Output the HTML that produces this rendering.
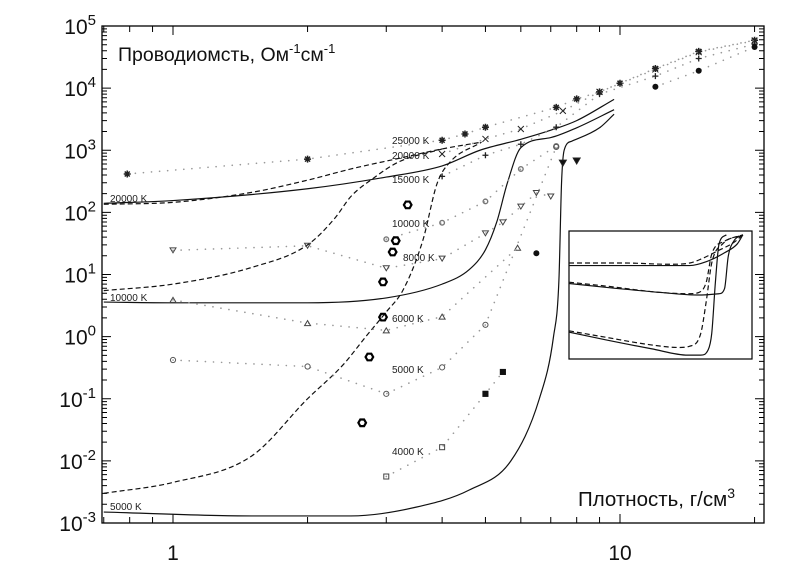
<!DOCTYPE html>
<html><head><meta charset="utf-8"><style>
html,body{margin:0;padding:0;background:#fff;}
svg{display:block;font-family:"Liberation Sans",sans-serif;}
</style></head><body>
<svg id="chart" width="800" height="576" viewBox="0 0 800 576" xmlns="http://www.w3.org/2000/svg">
<rect x="0" y="0" width="800" height="576" fill="#fff"/>
<g id="ticks"></g>
<g id="curves"></g>
<g id="series"></g>
<g id="inset"></g>
<rect x="102" y="26" width="662" height="497" fill="none" stroke="#000" stroke-width="1.3"/>
<text x="118" y="61" font-size="19.5" fill="#111">Проводиомсть, Ом<tspan dy="-8" font-size="13">-1</tspan><tspan dy="8">см</tspan><tspan dy="-8" font-size="13">-1</tspan></text>
<text x="578" y="506" font-size="20.5" fill="#111">Плотность, г/см<tspan dy="-8" font-size="14">3</tspan></text>
<g id="labels" font-size="10" fill="#222"></g>
<g id="ticklabels" font-size="21" fill="#111"></g>
</svg>
<script>
// ---------- data ----------
const xTickLabels = ["1","10"];
const yTickExps = [5,4,3,2,1,0,-1,-2,-3];

const solid20000X = [0.7,1,2,3,4,4.86,6,7,8,9.7];
const solid20000Y = [140,155,240,370,560,1000,1500,2100,3000,6600];
const solid10000X = [0.7,1,2,3,4,4.6,5,5.3,5.6,6,7,8,9.7];
const solid10000Y = [3.6,3.5,3.5,4.2,7,12,25,70,300,1100,1600,2300,4500];
const solid5000X = [0.7,1.5,2.5,3.5,4.6,5.7,6.6,7.1,7.3,7.4,7.5,7.8,9,9.7];
const solid5000Y = [0.0015,0.0013,0.0013,0.0018,0.0034,0.01,0.1,1,8,300,1000,1400,2300,3800];

const dash20000X = [0.7,1,1.5,2,2.5,3.2,4,4.9];
const dash20000Y = [135,145,210,330,500,740,1050,1350];
const dash10000X = [0.7,1,1.5,2,2.3,2.5,2.8,3.2,4];
const dash10000Y = [5.5,7,13,30,80,180,350,650,1050];
const dash5000X = [0.7,1,1.5,2,2.4,2.7,3,3.27,3.62,3.9,4.17,4.9];
const dash5000Y = [0.003,0.0045,0.012,0.1,0.35,1,2.5,5.6,35,295,650,1350];

const s25000X = [0.79,2,4,4.5,5,7.2,8,9,10,12,15,20];
const s25000Y = [415,720,1450,1830,2350,4900,6700,8700,12000,20700,39000,59000];
const s20000X = [4,5,6,7.45,9,12,15,20];
const s20000Y = [870,1520,2200,4300,8700,20000,38000,58000];
const s15000X = [4,5,6,7.2,9,12,15,20];
const s15000Y = [380,830,1250,2350,8000,15600,30000,51000];
const s12000X = [12,15,20];
const s12000Y = [10500,19000,46000];
const s10000X = [3,4,5,6,7.2];
const s10000Y = [37,68,150,500,1170];
const s8000X = [1,2,3,4,5,5.47,6,6.5,7];
const s8000Y = [24.5,29,12.6,18,46,69,124,205,180];
const s6000X = [1,2,3,4,5.9];
const s6000Y = [3.9,1.65,1.26,2.1,27];
const s5000X = [1,2,3,4,5,7.2];
const s5000Y = [0.42,0.33,0.12,0.32,1.55,1130];
const s4000X = [3,4];
const s4000Y = [0.0056,0.0166];
const s4000fX = [5,5.47];
const s4000fY = [0.12,0.27];
const sFilledCircX = [6.5];
const sFilledCircY = [22];
const sFilledTriX = [7.45,8];
const sFilledTriY = [620,670];
const hexX = [2.65,2.75,2.95,2.95,3.1,3.15,3.35];
const hexY = [0.041,0.47,2.06,7.6,23,35,132];

// inset (normalized 0..1 coordinates within inset box)
const insTopSolidX = [0,0.3,0.55,0.66,0.75,0.85,0.92,0.95];
const insTopSolidY = [0.73,0.73,0.73,0.73,0.76,0.83,0.9,0.97];
const insTopDashX = [0,0.3,0.55,0.66,0.72,0.82,0.9,0.95];
const insTopDashY = [0.75,0.75,0.74,0.75,0.78,0.85,0.91,0.97];
const insMidSolidX = [0,0.2,0.5,0.7,0.82,0.85,0.87,0.9,0.95];
const insMidSolidY = [0.59,0.56,0.52,0.5,0.51,0.55,0.8,0.92,0.97];
const insMidDashX = [0,0.2,0.5,0.66,0.71,0.75,0.78,0.85,0.95];
const insMidDashY = [0.6,0.57,0.52,0.51,0.52,0.6,0.82,0.92,0.97];
const insBotSolidX = [0,0.2,0.45,0.65,0.72,0.76,0.78,0.8,0.82,0.86];
const insBotSolidY = [0.21,0.15,0.08,0.03,0.03,0.07,0.2,0.6,0.9,0.97];
const insBotDashX = [0,0.2,0.45,0.6,0.66,0.72,0.75,0.78,0.84,0.95];
const insBotDashY = [0.22,0.17,0.11,0.09,0.1,0.2,0.45,0.75,0.9,0.97];

// ---------- scales ----------
const X0=102,X1=764,Y0=26,Y1=523;
const xOne=173, xDec=447;
function xs(v){return xOne+Math.log10(v)*xDec;}
function ys(v){return Y0+(5-Math.log10(v))*(Y1-Y0)/8;}
const IX0=569,IX1=752,IY0=231,IY1=359;
function ixs(v){return IX0+v*(IX1-IX0);}
function iys(v){return IY1-v*(IY1-IY0);}

const NS="http://www.w3.org/2000/svg";
function mk(tag,attrs,parent){const e=document.createElementNS(NS,tag);for(const k in attrs)e.setAttribute(k,attrs[k]);parent.appendChild(e);return e;}

// ---------- ticks ----------
const tg=document.getElementById('ticks');
const tickD=[];
for(let e=-3;e<=5;e++){
  const y=ys(Math.pow(10,e));
  tickD.push(`M${X0},${y}h9M${X1},${y}h-9`);
  if(e<5)for(let m=2;m<=9;m++){const yy=ys(m*Math.pow(10,e));tickD.push(`M${X0},${yy}h5M${X1},${yy}h-5`);}
}
const xtv=[0.7,0.8,0.9,1,2,3,4,5,6,7,8,9,10,20];
xtv.forEach(v=>{const x=xs(v);const L=(v===1||v===10)?9:6;tickD.push(`M${x},${Y1}v-${L}M${x},${Y0}v${L}`);});
const tp=mk('path',{d:tickD.join(''),stroke:'#000','stroke-width':1,fill:'none'},tg);



const tl=document.getElementById('ticklabels');
yTickExps.forEach(e=>{
  const t=mk('text',{x:96,y:ys(Math.pow(10,e))+8,'text-anchor':'end'},tl);
  
  
  t.innerHTML=`10<tspan dy="-9" font-size="15">${e}</tspan>`;
});
[1,10].forEach((v,i)=>{
  const t=mk('text',{x:xs(v),y:560,'text-anchor':'middle'},tl);
  
  
  t.textContent=xTickLabels[i];
});

// ---------- monotone curve path ----------
function smoothPath(px,py){
  const n=px.length;
  if(n<3){return px.map((x,i)=>(i?'L':'M')+x+','+py[i]).join('');}
  const d=[],m=new Array(n);
  for(let i=0;i<n-1;i++)d.push((py[i+1]-py[i])/(px[i+1]-px[i]));
  m[0]=d[0];m[n-1]=d[n-2];
  for(let i=1;i<n-1;i++){m[i]=(d[i-1]*d[i]<=0)?0:(d[i-1]+d[i])/2;}
  for(let i=0;i<n-1;i++){
    if(d[i]===0){m[i]=0;m[i+1]=0;continue;}
    const a=m[i]/d[i],b=m[i+1]/d[i],s=a*a+b*b;
    if(s>9){const t=3/Math.sqrt(s);m[i]=t*a*d[i];m[i+1]=t*b*d[i];}
  }
  let out=`M${px[0]},${py[0]}`;
  for(let i=0;i<n-1;i++){
    const h=(px[i+1]-px[i])/3;
    out+=`C${px[i]+h},${py[i]+m[i]*h} ${px[i+1]-h},${py[i+1]-m[i+1]*h} ${px[i+1]},${py[i+1]}`;
  }
  return out;
}
const cg=document.getElementById('curves');
function curve(X,Y,dash,name){
  const p=mk('path',{d:smoothPath(X.map(xs),Y.map(ys)),fill:'none',stroke:'#111','stroke-width':1.2},cg);
  if(dash)p.setAttribute('stroke-dasharray','5 3');
  
  
}
curve(solid20000X,solid20000Y,false,'solid-20000k');
curve(solid10000X,solid10000Y,false,'solid-10000k');
curve(solid5000X,solid5000Y,false,'solid-5000k');
curve(dash20000X,dash20000Y,true,'dashed-20000k');
curve(dash10000X,dash10000Y,true,'dashed-10000k');
curve(dash5000X,dash5000Y,true,'dashed-5000k');

// ---------- series ----------
const sg=document.getElementById('series');
function dotted(X,Y,name){
  const d=X.map((v,i)=>(i?'L':'M')+xs(v)+','+ys(Y[i])).join('');
  const p=mk('path',{d:d,fill:'none',stroke:'#999','stroke-width':1.6,'stroke-dasharray':'0.1 8','stroke-linecap':'round'},sg);
  
  
}
function marker(type,x,y,name){
  const g=mk('g',{transform:`translate(${x},${y})`,stroke:'#222',fill:'none','stroke-width':1},sg);
  
  
  if(type==='ast'){mk('path',{d:'M-3.5,0h7M0,-3.5v7M-2.5,-2.5l5,5M2.5,-2.5l-5,5','stroke-width':1.5},g);}
  else if(type==='x'){mk('path',{d:'M-3,-3l6,6M3,-3l-6,6'},g);}
  else if(type==='plus'){mk('path',{d:'M-3,0h6M0,-3v6','stroke-width':1.3},g);}
  else if(type==='fcirc'){mk('circle',{r:3,fill:'#111',stroke:'none'},g);}
  else if(type==='ocirc'){mk('circle',{r:2.6,stroke:'#555'},g);}
  else if(type==='diam'){mk('circle',{r:2.3,stroke:'#777','stroke-width':1.4},g);}
  else if(type==='tdown'){mk('path',{d:'M-3,-2.5h6l-3,5z',stroke:'#444'},g);}
  else if(type==='ftdown'){mk('path',{d:'M-3.5,-3h7l-3.5,6z',fill:'#111'},g);}
  else if(type==='tup'){mk('path',{d:'M-3,2.5h6l-3,-5z',stroke:'#444'},g);}
  else if(type==='sq'){mk('rect',{x:-2.5,y:-2.5,width:5,height:5,stroke:'#444'},g);}
  else if(type==='fsq'){mk('rect',{x:-3,y:-3,width:6,height:6,fill:'#111',stroke:'none'},g);}
  else if(type==='hex'){mk('path',{d:'M3.8,0L1.9,3.3L-1.9,3.3L-3.8,0L-1.9,-3.3L1.9,-3.3Z','stroke-width':2.2,stroke:'#000'},g);}
}
function series(X,Y,type,name,line){
  if(line)dotted(X,Y,name+'-line');
  X.forEach((v,i)=>marker(type,xs(v),ys(Y[i]),name+'-point'));
}
series(s25000X,s25000Y,'ast','series-25000k',true);
series(s20000X,s20000Y,'x','series-20000k',true);
series(s15000X,s15000Y,'plus','series-15000k',true);
series(s12000X,s12000Y,'fcirc','series-12000k',true);
series(s10000X,s10000Y,'diam','series-10000k',true);
series(s8000X,s8000Y,'tdown','series-8000k',true);
series(s6000X,s6000Y,'tup','series-6000k',true);
series(s5000X,s5000Y,'ocirc','series-5000k',true);
series(s4000X.concat(s4000fX),s4000Y.concat(s4000fY),'sq','series-4000k',true);
series(s4000fX,s4000fY,'fsq','series-4000k-filled',false);
series(sFilledCircX,sFilledCircY,'fcirc','series-filled-circle',false);
series(sFilledTriX,sFilledTriY,'ftdown','series-filled-triangle',false);
series(hexX,hexY,'hex','series-hexagon',false);

// ---------- labels ----------
const lg=document.getElementById('labels');
const labelText=["25000 K","20000 K","15000 K","10000 K","8000 K","6000 K","5000 K","4000 K","20000 K","10000 K","5000 K"];
const labelPos=[[392,144],[392,159],[392,183],[392,227],[403,261],[392,322],[392,373],[392,455],[110,202],[110,301],[110,510]];
labelText.forEach((s,i)=>{
  const t=mk('text',{x:labelPos[i][0],y:labelPos[i][1]},lg);
  
  
  t.textContent=s;
});

// ---------- inset ----------
const ig=document.getElementById('inset');
const ib=mk('rect',{x:IX0,y:IY0,width:IX1-IX0,height:IY1-IY0,fill:'#fff',stroke:'#000','stroke-width':1.2},ig);


function icurve(X,Y,dash,name){
  const p=mk('path',{d:smoothPath(X.map(ixs),Y.map(iys)),fill:'none',stroke:'#111','stroke-width':1.2},ig);
  if(dash)p.setAttribute('stroke-dasharray','5 3');
  
  
}
icurve(insTopSolidX,insTopSolidY,false,'inset-top-solid');
icurve(insTopDashX,insTopDashY,true,'inset-top-dashed');
icurve(insMidSolidX,insMidSolidY,false,'inset-mid-solid');
icurve(insMidDashX,insMidDashY,true,'inset-mid-dashed');
icurve(insBotSolidX,insBotSolidY,false,'inset-bottom-solid');
icurve(insBotDashX,insBotDashY,true,'inset-bottom-dashed');
</script>
</body></html>
